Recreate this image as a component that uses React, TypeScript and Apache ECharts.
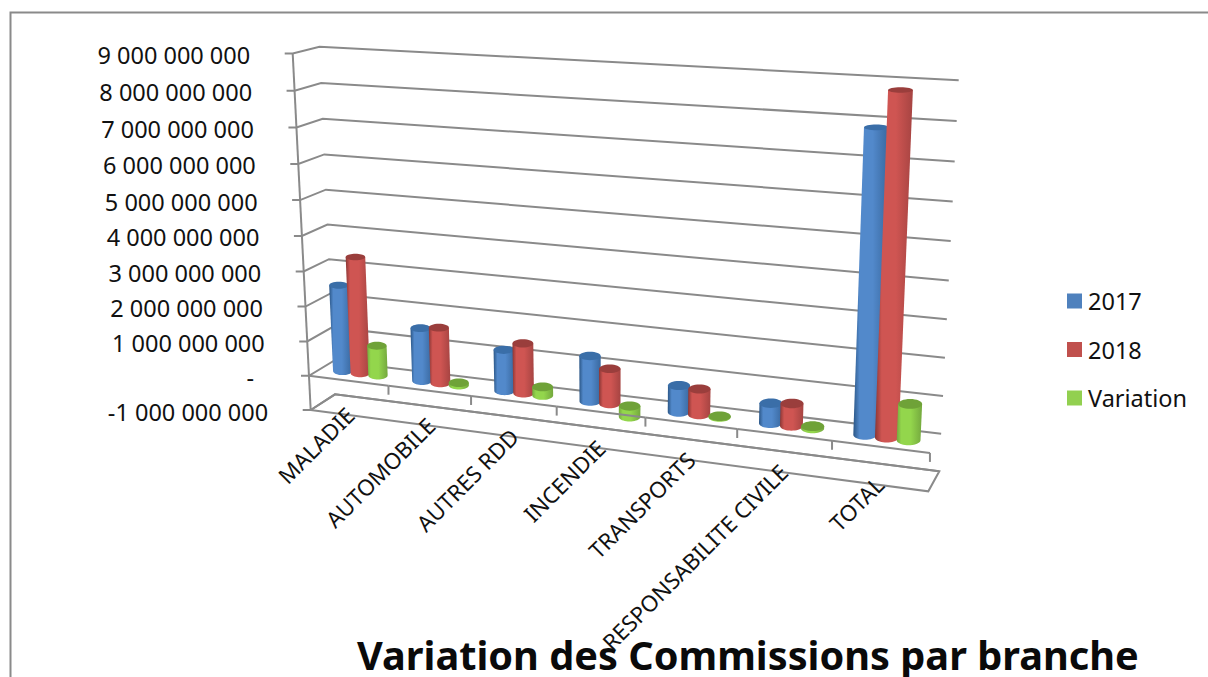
import React, { useEffect, useRef } from "react";
import * as echarts from "echarts";

const categories = ["MALADIE", "AUTOMOBILE", "AUTRES RDD", "INCENDIE", "TRANSPORTS", "RESPONSABILITE CIVILE", "TOTAL"];
const values2017 = [2490000000, 1510000000, 1160000000, 1260000000, 730000000, 540000000, 7870000000];
const values2018 = [3350000000, 1580000000, 1400000000, 970000000, 700000000, 600000000, 8820000000];
const valuesVariation = [860000000, 70000000, 240000000, -300000000, 20000000, 60000000, 950000000];
const yTicks = [-1000000000, 0, 1000000000, 2000000000, 3000000000, 4000000000, 5000000000, 6000000000, 7000000000, 8000000000, 9000000000];

const W = 1208;
const H = 677;
const FONT = "'Noto Sans', sans-serif";
const GRID_TOP = 53.5;
const GRID_H = 356.5;
const LINE = "#8a8a8a";
const LINE_W = 2;

// 3D box corners (w=0 is the axis minimum, w=1 the maximum)
const FL = [[310.7, 410], [292.7, 53.5]];
const BL = [[335, 394.3], [319.5, 46.7]];
const BR = [[939.3, 471.3], [958.7, 80.3]];
const FR = [[928.3, 491.3], [945.5, 90.5]];

const warpU = (u: number) => u * (0.879 + 0.121 * u);
const warpS = (s: number) => s * (0.953 + 0.047 * s);
const lerp = (a: number, b: number, t: number) => a + (b - a) * t;

// u along the categories, d in depth (0 front, 1 back), s along the value axis
function project(u: number, d: number, s: number): number[] {
  const t = warpU(u);
  const w = warpS(s);
  const out: number[] = [];
  for (let k = 0; k < 2; k++) {
    const f = lerp(lerp(FL[0][k], FR[0][k], t), lerp(FL[1][k], FR[1][k], t), w);
    const b = lerp(lerp(BL[0][k], BR[0][k], t), lerp(BL[1][k], BR[1][k], t), w);
    out.push(lerp(f, b, d));
  }
  return out;
}

const toU = (px: number) => px / W;
const toS = (py: number) => (GRID_TOP + GRID_H - py) / GRID_H;

type Shade = { left: string; mid: string; right: string; cap: string };

function cylinderSeries(name: string, values: number[], slot: number, legendColor: string, shade: Shade, z: number) {
  const OFFSET = 0.225 / 7;
  const RAD_U = 0.122 / 7;
  return {
    type: "custom",
    name,
    z,
    clip: false,
    silent: true,
    itemStyle: { color: legendColor },
    data: values.map((v, i) => [i, v]),
    renderItem: (_p: any, api: any) => {
      const cat = api.value(0);
      const val = api.value(1);
      const base = api.coord([cat, 0]);
      const tip = api.coord([cat, val]);
      const u = toU(base[0]) + slot * OFFSET;
      const sHi = toS(Math.min(base[1], tip[1]));
      const sLo = toS(Math.max(base[1], tip[1]));
      const c1 = project(u, 0.5, sHi);
      const c0 = project(u, 0.5, sLo);
      const radii = (s: number) => [
        Math.abs(project(u + RAD_U, 0.5, s)[0] - project(u - RAD_U, 0.5, s)[0]) / 2,
        0.27 * Math.abs(project(u, 1, s)[1] - project(u, 0, s)[1]),
      ];
      const [rx1, ry1] = radii(sHi);
      const [rx0, ry0] = radii(sLo);
      const pts: number[][] = [[c1[0] - rx1, c1[1]]];
      for (let i = 0; i <= 20; i++) {
        const a = Math.PI - (Math.PI * i) / 20;
        pts.push([c0[0] + rx0 * Math.cos(a), c0[1] + ry0 * Math.sin(a)]);
      }
      pts.push([c1[0] + rx1, c1[1]]);
      const fill = new echarts.graphic.LinearGradient(0, 0, 1, 0, [
        { offset: 0, color: shade.left },
        { offset: 0.18, color: shade.mid },
        { offset: 0.55, color: shade.mid },
        { offset: 1, color: shade.right },
      ]);
      return {
        type: "group",
        children: [
          { type: "polygon", shape: { points: pts }, style: { fill } },
          { type: "ellipse", shape: { cx: c1[0], cy: c1[1], rx: rx1, ry: ry1 }, style: { fill: shade.cap } },
        ],
      };
    },
  };
}

const wallSeries = {
  type: "custom",
  z: 1,
  clip: false,
  silent: true,
  data: yTicks.map((t) => [0, t]),
  renderItem: (_p: any, api: any) => {
    const s = toS(api.coord([0, api.value(1)])[1]);
    const a = project(0, 0, s);
    const b = project(0, 1, s);
    const c = project(1, 1, s);
    return {
      type: "polyline",
      shape: { points: [[a[0] - 8, a[1]], a, b, c] },
      style: { stroke: LINE, lineWidth: LINE_W, fill: "none" },
    };
  },
};

const frameSeries = {
  type: "custom",
  z: 1,
  clip: false,
  silent: true,
  data: [[0, yTicks[0]]],
  renderItem: () => {
    const lw = { stroke: LINE, lineWidth: LINE_W, fill: "none" };
    return {
      type: "group",
      children: [
        { type: "polyline", shape: { points: [project(0, 0, 1), project(0, 0, 0)] }, style: lw },
        {
          type: "polygon",
          shape: { points: [project(0, 0, 0), project(1, 0, 0), project(1, 1, 0), project(0, 1, 0)] },
          style: lw,
        },
      ],
    };
  },
};

const frontAxisSeries = {
  type: "custom",
  z: 6,
  clip: false,
  silent: true,
  data: categories.map((_, i) => [i, 0]),
  renderItem: (_p: any, api: any) => {
    const i = api.value(0);
    const pt = api.coord([i, 0]);
    const s = toS(pt[1]);
    const step = 1 / categories.length;
    const u1 = toU(pt[0]) + step / 2;
    const a = project(u1 - step, 0, s);
    const b = project(u1, 0, s);
    return {
      type: "group",
      children: [
        { type: "line", shape: { x1: a[0], y1: a[1], x2: b[0], y2: b[1] }, style: { stroke: LINE, lineWidth: LINE_W } },
        { type: "line", shape: { x1: b[0], y1: b[1], x2: b[0], y2: b[1] + 9 }, style: { stroke: LINE, lineWidth: LINE_W } },
      ],
    };
  },
};

const yLabelSeries = {
  type: "custom",
  z: 7,
  clip: false,
  silent: true,
  data: yTicks.map((t) => [0, t]),
  renderItem: (_p: any, api: any) => {
    const v = api.value(1);
    const a = project(0, 0, toS(api.coord([0, v])[1]));
    const text = v === 0 ? "-" : String(v).replace(/\B(?=(\d{3})+(?!\d))/g, " ");
    return {
      type: "text",
      x: a[0] - (v === 0 ? 55 : 42.5),
      y: a[1] + 1.5,
      style: { text, textAlign: "right", textVerticalAlign: "middle", fontFamily: FONT, fontSize: 23.5, fill: "#111" },
    };
  },
};

const catLabelSeries = {
  type: "custom",
  z: 7,
  clip: false,
  silent: true,
  data: categories.map((_, i) => [i, 0]),
  renderItem: (_p: any, api: any) => {
    const i = api.value(0);
    const pt = api.coord([i, 0]);
    const a = project(toU(pt[0]), 0, 0);
    return {
      type: "text",
      x: a[0] + 0.5,
      y: a[1] - 4,
      rotation: Math.PI / 4,
      style: { text: categories[i], textAlign: "right", textVerticalAlign: "middle", fontFamily: FONT, fontSize: 22.3, fill: "#111" },
    };
  },
};

export default function App() {
  const ref = useRef<HTMLDivElement>(null);
  useEffect(() => {
    const chart = echarts.init(ref.current!, undefined, { renderer: "svg" });
    chart.setOption({
      animation: false,
      backgroundColor: "#fff",
      title: {
        text: "Variation des Commissions par branche",
        left: 357,
        top: 634,
        padding: 0,
        textStyle: { fontFamily: FONT, fontSize: 39.7, lineHeight: 42, fontWeight: "bold", color: "#0a0a0a" },
      },
      legend: {
        orient: "vertical",
        left: 1067,
        top: 289,
        itemWidth: 15,
        itemHeight: 15,
        itemGap: 24.5,
        padding: 0,
        selectedMode: false,
        icon: "rect",
        data: ["2017", "2018", "Variation"],
        textStyle: { fontFamily: FONT, fontSize: 23.5, color: "#111", padding: [0, 0, 0, 1] },
      },
      grid: { left: 0, top: GRID_TOP, width: W, height: GRID_H },
      xAxis: { type: "category", data: categories, show: false },
      yAxis: { type: "value", min: -1000000000, max: 9000000000, interval: 1000000000, show: false },
      graphic: [
        {
          type: "polyline",
          shape: { points: [[10.5, 677], [10.5, 12.5], [1208, 12.5]] },
          style: { stroke: LINE, lineWidth: 2, fill: "none" },
        },
      ],
      series: [
        wallSeries,
        frameSeries,
        cylinderSeries("2017", values2017, -1, "#4F81BD", { left: "#2b5686", mid: "#5289cb", right: "#39689f", cap: "#3a6ea8" }, 3),
        cylinderSeries("2018", values2018, 0, "#C0504D", { left: "#8a3634", mid: "#cf5552", right: "#a64442", cap: "#9a3e3c" }, 4),
        cylinderSeries("Variation", valuesVariation, 1, "#92D050", { left: "#74a83e", mid: "#93d64c", right: "#74a83e", cap: "#6fa238" }, 5),
        frontAxisSeries,
        yLabelSeries,
        catLabelSeries,
      ],
    });
    return () => chart.dispose();
  }, []);
  return <div ref={ref} style={{ position: "fixed", left: 0, top: 0, width: W, height: H }} />;
}
